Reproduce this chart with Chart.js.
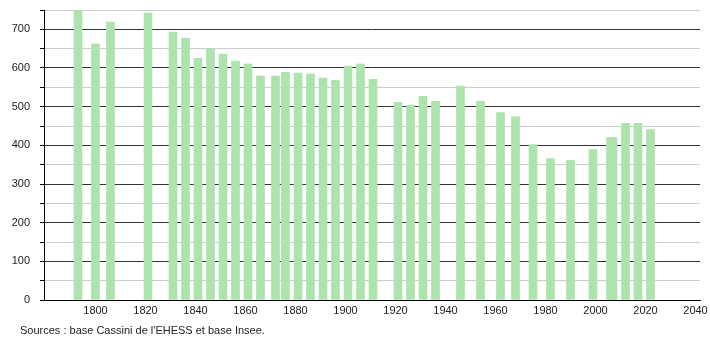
<!DOCTYPE html>
<html>
<head>
<meta charset="utf-8">
<script src="https://cdn.jsdelivr.net/npm/chart.js@4.4.0/dist/chart.umd.min.js"></script>
<style>
  body { margin: 0; background: #fff; }
  #wrap { position: relative; width: 710px; height: 340px; }
  #source {
    position: absolute; left: 20px; top: 324px;
    font: 11px "Liberation Sans", Arial, sans-serif; color: #222;
  }
</style>
</head>
<body>
<div id="wrap">
  <canvas id="popChart" width="710" height="340"></canvas>
  <div id="source">Sources : base Cassini de l'EHESS et base Insee.</div>
</div>
<script>
// census years and population
const years = [1793, 1800, 1806, 1821, 1831, 1836, 1841, 1846, 1851, 1856, 1861, 1866, 1872, 1876,
  1881, 1886, 1891, 1896, 1901, 1906, 1911, 1921, 1926, 1931, 1936, 1946, 1954, 1962, 1968,
  1975, 1982, 1990, 1999, 2006, 2007, 2012, 2017, 2022];
const population = [752, 662, 719, 742, 693, 677, 625, 650, 636, 618, 610, 579, 579, 589,
  587, 584, 574, 568, 605, 610, 571, 511, 504, 527, 514, 553, 514, 485, 474,
  402, 366, 361, 389, 420, 420, 457, 457, 441];
const xTicks = [1800, 1820, 1840, 1860, 1880, 1900, 1920, 1940, 1960, 1980, 2000, 2020, 2040];

const font = { family: '"Liberation Sans", Arial, sans-serif', size: 11 };

const ctx = document.getElementById('popChart').getContext('2d');
new Chart(ctx, {
  type: 'bar',
  data: {
    datasets: [{
      data: years.map((y, i) => ({ x: y, y: population[i] })),
      backgroundColor: '#ade3ad',
      borderWidth: 0,
      barThickness: 8
    }]
  },
  options: {
    responsive: false,
    animation: false,
    layout: { padding: { top: 10, right: 10, bottom: 20, left: 0 } },
    plugins: { legend: { display: false }, tooltip: { enabled: false } },
    scales: {
      x: {
        type: 'linear',
        offset: false,
        min: 1779.4,
        max: 2041.8,
        afterBuildTicks: scale => { scale.ticks = xTicks.map(v => ({ value: v })); },
        afterFit: scale => { scale.height = 20; scale.paddingLeft = 0; scale.paddingRight = 0; },
        grid: { display: false },
        border: { display: true, color: '#000', width: 1 },
        ticks: { color: '#222', font: font, padding: -4, maxRotation: 0, callback: v => v }
      },
      y: {
        min: 0,
        max: 750,
        afterFit: scale => { scale.width = 44; scale.paddingTop = 0; scale.paddingBottom = 0; },
        border: { display: true, color: '#000', width: 1 },
        grid: {
          color: c => (c.tick && c.tick.value % 100 === 0) ? '#333' : '#cccccc',
          tickColor: '#000',
          tickLength: 4
        },
        ticks: {
          stepSize: 25,
          color: '#222',
          font: font,
          padding: 10,
          callback: v => (v % 100 === 0 && v < 750) ? v : ''
        }
      }
    }
  }
});
</script>
</body>
</html>
